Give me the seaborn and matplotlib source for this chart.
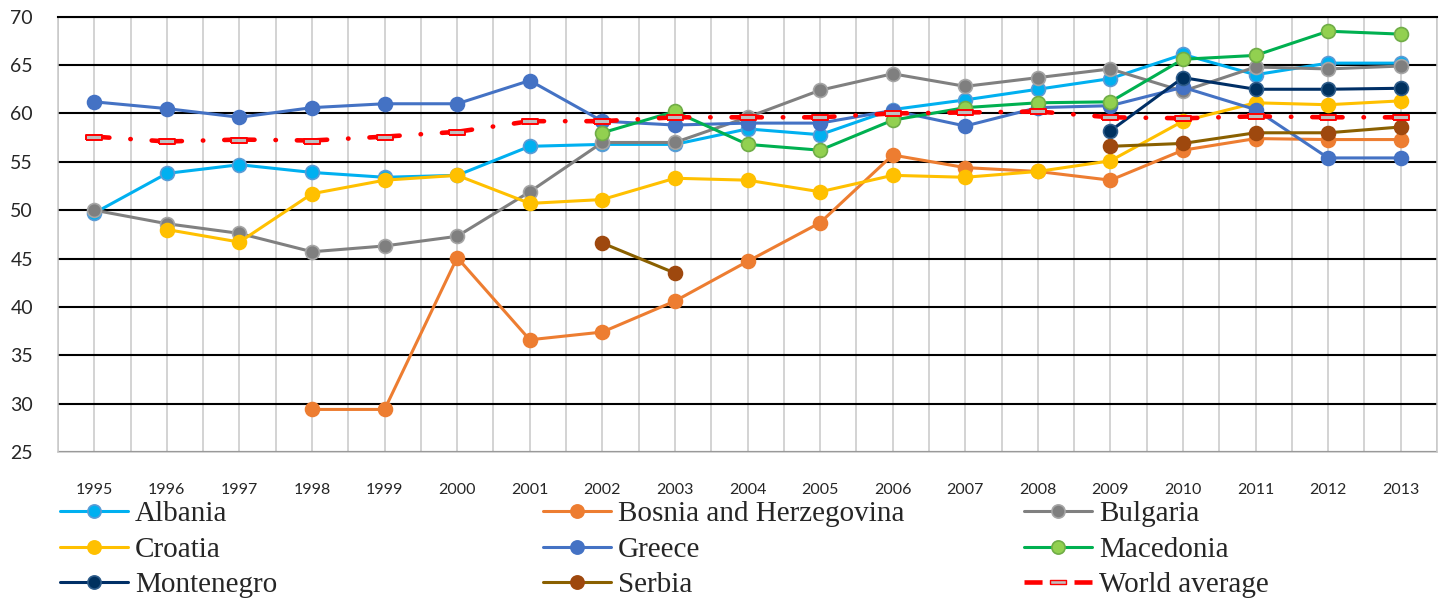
import matplotlib
matplotlib.use("Agg")
import matplotlib.pyplot as plt
from matplotlib.lines import Line2D
import seaborn as sns
import pandas as pd
import numpy as np

# Data
years = list(range(1995, 2014))
albania = [49.7, 53.8, 54.7, 53.9, 53.4, 53.6, 56.6, 56.8, 56.8, 58.4,
           57.8, 60.4, 61.4, 62.5, 63.6, 66.1, 64.0, 65.2, 65.2]
bosnia = [None, None, None, 29.4, 29.4, 45.1, 36.6, 37.4, 40.6, 44.7,
          48.7, 55.7, 54.4, 54.0, 53.1, 56.2, 57.4, 57.3, 57.3]
bulgaria = [50.0, 48.6, 47.6, 45.7, 46.3, 47.3, 51.9, 57.0, 57.0, 59.6,
            62.4, 64.1, 62.8, 63.7, 64.6, 62.3, 64.8, 64.6, 64.9]
croatia = [None, 48.0, 46.7, 51.7, 53.1, 53.6, 50.7, 51.1, 53.3, 53.1,
           51.9, 53.6, 53.4, 54.0, 55.1, 59.2, 61.1, 60.9, 61.3]
greece = [61.2, 60.5, 59.6, 60.6, 61.0, 61.0, 63.4, 59.2, 58.8, 59.0,
          59.0, 60.3, 58.7, 60.6, 60.8, 62.7, 60.4, 55.4, 55.4]
macedonia = [None, None, None, None, None, None, None, 58.0, 60.2, 56.8,
             56.2, 59.3, 60.6, 61.1, 61.2, 65.6, 66.0, 68.5, 68.2]
montenegro = [None] * 14 + [58.2, 63.7, 62.5, 62.5, 62.6]
serbia = [None] * 7 + [46.6, 43.5] + [None] * 5 + [56.6, 56.9, 58.0, 58.0, 58.6]
world = [57.6, 57.1, 57.3, 57.2, 57.6, 58.1, 59.2, 59.2, 59.6, 59.6,
         59.6, 60.0, 60.1, 60.2, 59.6, 59.5, 59.7, 59.6, 59.6]

countries = ["Albania", "Bosnia and Herzegovina", "Bulgaria", "Croatia", "Greece",
             "Macedonia", "Montenegro", "Serbia", "World average"]
series = [albania, bosnia, bulgaria, croatia, greece, macedonia, montenegro, serbia, world]

# line colour, marker face, marker edge
styles = {
    "Albania": ("#00B0F0", "#00B0F0", "#5B9BD5"),
    "Bosnia and Herzegovina": ("#ED7D31", "#ED7D31", "#ED7D31"),
    "Bulgaria": ("#808080", "#7F7F7F", "#A5A5A5"),
    "Croatia": ("#FFC000", "#FFC000", "#FFC000"),
    "Greece": ("#4472C4", "#4472C4", "#4472C4"),
    "Macedonia": ("#00B050", "#92D050", "#70AD47"),
    "Montenegro": ("#002F66", "#00315F", "#2E5C8A"),
    "Serbia": ("#8A6000", "#9E480E", "#9E480E"),
}

# long table; a gap in the years starts a new segment (Serbia)
rows = []
for name, vals in zip(countries, series):
    seg = 0
    prev = None
    for yr, v in zip(years, vals):
        if v is None:
            continue
        if prev is not None and yr - prev > 1:
            seg += 1
        rows.append({"country": name, "year": yr, "value": v, "segment": seg})
        prev = yr
df = pd.DataFrame(rows)

sns.set_style("white")
plt.rcParams["lines.scale_dashes"] = False
plt.rcParams["font.family"] = ["Lato", "DejaVu Sans"]

W, H = 1443, 598
fig = plt.figure(figsize=(W / 100, H / 100), dpi=100)
ax = fig.add_axes([58 / W, 1 - 452 / H, (1437 - 58) / W, (452 - 16.7) / H])

rect = [(-1, -0.3), (1, -0.3), (1, 0.3), (-1, 0.3), (-1, -0.3)]

for name in countries:
    sub = df[df["country"] == name]
    if name == "World average":
        sns.lineplot(data=sub, x="year", y="value", units="segment", estimator=None,
                     ax=ax, color="#FF0000", lw=3.3,
                     linestyle=(10.9, (21.8, 15.1, 0.3, 15.1)),
                     dash_capstyle="round", marker=rect, ms=12,
                     mfc="#BFBFBF", mec="#FF0000", mew=1.4, zorder=3)
    else:
        lc, fc, ec = styles[name]
        sns.lineplot(data=sub, x="year", y="value", units="segment", estimator=None,
                     ax=ax, color=lc, lw=2.2, marker="o", ms=10,
                     mfc=fc, mec=ec, mew=1.2, zorder=3)

ax.set_xlim(1994.5, 2013.5)
ax.set_ylim(25, 70)
ax.set_xticks(years)
ax.set_xticklabels([str(y) for y in years])
ax.set_xticks(np.arange(1994.5, 2014, 1), minor=True)
ax.set_yticks(range(25, 71, 5))
ax.set_xlabel("")
ax.set_ylabel("")
ax.set_axisbelow(True)
ax.grid(axis="x", which="both", color="#C8C8C8", lw=1.1)
ax.grid(axis="y", which="major", color="black", lw=1.5)
ax.tick_params(axis="x", which="both", length=0, pad=22, labelsize=11.5)
ax.tick_params(axis="y", length=0, pad=18, labelsize=14)

for s in ["left", "right", "bottom"]:
    ax.spines[s].set_color("#C8C8C8")
    ax.spines[s].set_linewidth(1.1)
ax.spines["top"].set_color("black")
ax.spines["top"].set_linewidth(1.5)

# legend, three columns placed like the original
handles = []
for name in countries:
    if name == "World average":
        h = Line2D([], [], color="#FF0000", lw=3.3, linestyle=(0, (13, 23)),
                   marker=rect, ms=11.5, mfc="#BFBFBF", mec="#FF0000", mew=1.0)
    else:
        lc, fc, ec = styles[name]
        h = Line2D([], [], color=lc, lw=2.2, marker="o", ms=9.5, mfc=fc, mec=ec, mew=1.2)
    handles.append(h)

col_x = [60, 543, 1024]
for i, x0 in enumerate(col_x):
    idx = [i, i + 3, i + 6]
    fig.legend([handles[j] for j in idx], [countries[j] for j in idx],
               loc="upper left", bbox_to_anchor=(x0 / W, 1 - 501 / H),
               frameon=False, borderpad=0, borderaxespad=0,
               handlelength=2.33, handletextpad=0.24, labelspacing=0.31,
               prop={"family": "Liberation Serif", "size": 21})

fig.savefig("out.png", dpi=100)
